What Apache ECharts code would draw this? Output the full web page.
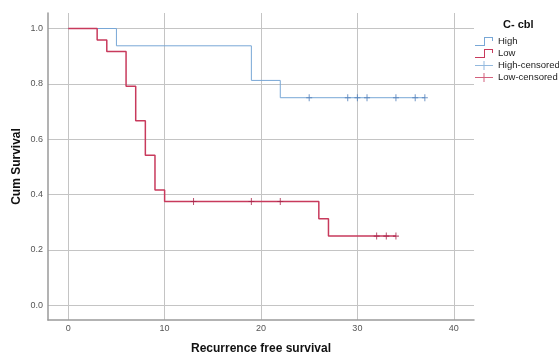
<!DOCTYPE html>
<html>
<head>
<meta charset="utf-8">
<script src="https://cdn.jsdelivr.net/npm/echarts@6/dist/echarts.min.js"></script>
<style>
  html, body { margin: 0; padding: 0; background: #fff; }
  #chart { width: 559px; height: 354px; }
</style>
</head>
<body>
<div id="chart"></div>
<script>
// Kaplan-Meier steps
var highTimes = [0, 5, 19, 22, 37];
var highSurv = [1.0, 0.9375, 0.8125, 0.75, 0.75];
var highCensored = [25, 29, 30, 31, 34, 36, 37];

var lowTimes = [0, 3, 4, 6, 7, 8, 9, 10, 26, 27, 34];
var lowSurv = [1.0, 0.9583, 0.9167, 0.7917, 0.6667, 0.5417, 0.4167, 0.375, 0.3125, 0.25, 0.25];
var lowCensored = [13, 19, 22, 32, 33, 34];

var xTicks = [0, 10, 20, 30, 40];
var yTicks = [0, 0.2, 0.4, 0.6, 0.8, 1.0];

var blue = "#78a7d6";
var blueMark = "#4f7db9";
var red = "#c83a5c";
var redMark = "#a8244a";
var font = "Liberation Sans";

// survival value of a step curve at time t
function survAt(times, surv, t) {
  var v = surv[0];
  for (var i = 0; i < times.length; i++) {
    if (times[i] <= t) v = surv[i];
  }
  return v;
}

function pairs(times, surv) {
  return times.map(function (t, i) { return [t, surv[i]]; });
}

var plusSymbol = "path://M5,0 L7,0 L7,12 L5,12 Z M0,5 L12,5 L12,7 L0,7 Z";
var stepIcon = "path://M0,8 L9,8 L9,0 L18,0 L18,4 L17,4 L17,1 L10,1 L10,9 L0,9 Z";
var censIcon = "path://M0,4 L18,4 L18,5 L0,5 Z M8.5,0 L9.5,0 L9.5,9 L8.5,9 Z";

var myChart = echarts.init(document.getElementById("chart"));
var option = {
  animation: false,
  backgroundColor: "#ffffff",
  textStyle: { fontFamily: font },
  grid: { left: 48, right: 85, top: 13, bottom: 34, containLabel: false, outerBoundsMode: "none" },
  legend: {
    orient: "vertical",
    left: 475,
    top: 36,
    padding: 0,
    itemWidth: 18,
    itemHeight: 9,
    itemGap: 1,
    symbolKeepAspect: false,
    itemStyle: { borderWidth: 0 },
    textStyle: { fontFamily: font, fontSize: 9.5, color: "#222", lineHeight: 11 },
    data: [
      { name: "High", icon: stepIcon, itemStyle: { color: blue } },
      { name: "Low", icon: stepIcon, itemStyle: { color: red } },
      { name: "High-censored", icon: censIcon, itemStyle: { color: blue } },
      { name: "Low-censored", icon: censIcon, itemStyle: { color: red } }
    ]
  },
  graphic: [
    {
      type: "text",
      left: 503,
      top: 19,
      style: { text: "C- cbl", font: "bold 11px " + font, fill: "#111" }
    }
  ],
  xAxis: {
    type: "value",
    min: -2.1,
    max: 42.1,
    name: "Recurrence free survival",
    nameLocation: "middle",
    nameGap: 23,
    nameMoveOverlap: false,
    nameTextStyle: { fontFamily: font, fontSize: 12, fontWeight: "bold", color: "#111" },
    axisLine: { show: true, onZero: false, lineStyle: { color: "#9a9a9a", width: 1.5 } },
    axisTick: { show: false, customValues: xTicks },
    axisLabel: { customValues: xTicks, color: "#555", fontSize: 9, margin: 4 },
    splitLine: { show: true, lineStyle: { color: "#c4c4c4", width: 1 } }
  },
  yAxis: {
    type: "value",
    min: -0.053,
    max: 1.056,
    name: "Cum Survival",
    nameLocation: "middle",
    nameGap: 25,
    nameMoveOverlap: false,
    nameTextStyle: { fontFamily: font, fontSize: 12, fontWeight: "bold", color: "#111" },
    axisLine: { show: true, onZero: false, lineStyle: { color: "#9a9a9a", width: 1.5 } },
    axisTick: { show: false, customValues: yTicks },
    axisLabel: {
      customValues: yTicks,
      color: "#555",
      fontSize: 9,
      margin: 5,
      formatter: function (v) { return v.toFixed(1); }
    },
    splitLine: { show: true, lineStyle: { color: "#c4c4c4", width: 1 } }
  },
  series: [
    {
      name: "High",
      type: "line",
      step: "end",
      symbol: "none",
      data: pairs(highTimes, highSurv),
      itemStyle: { color: blue },
      lineStyle: { color: blue, width: 1 },
      z: 3
    },
    {
      name: "Low",
      type: "line",
      step: "end",
      symbol: "none",
      data: pairs(lowTimes, lowSurv),
      itemStyle: { color: red },
      lineStyle: { color: red, width: 1.5 },
      z: 4
    },
    {
      name: "High-censored",
      type: "scatter",
      symbol: plusSymbol,
      symbolSize: [6, 7],
      symbolKeepAspect: false,
      data: highCensored.map(function (t) { return [t, survAt(highTimes, highSurv, t)]; }),
      itemStyle: { color: blueMark },
      z: 5
    },
    {
      name: "Low-censored",
      type: "scatter",
      symbol: plusSymbol,
      symbolSize: [6, 7],
      symbolKeepAspect: false,
      data: lowCensored.map(function (t) { return [t, survAt(lowTimes, lowSurv, t)]; }),
      itemStyle: { color: redMark },
      z: 5
    }
  ]
};
myChart.setOption(option, true);
</script>
</body>
</html>
